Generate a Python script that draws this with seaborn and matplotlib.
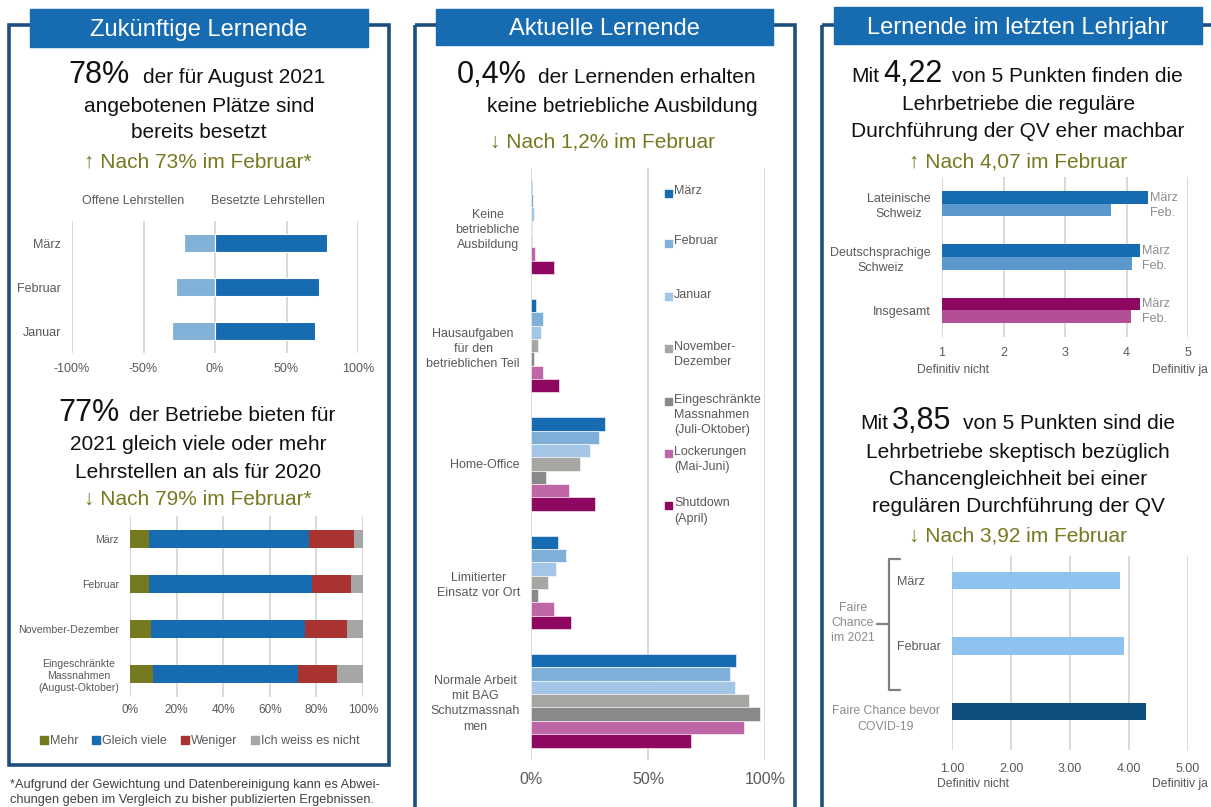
import matplotlib.pyplot as plt
import numpy as np
import pandas as pd
import seaborn as sns
from matplotlib.lines import Line2D
from matplotlib.patches import Rectangle

# --- Zukünftige Lernende: Lehrstellen ---
monate = ['März', 'Februar', 'Januar']
offene = [22, 27, 30]
besetzte = [78, 73, 70]

# --- Zukünftige Lernende: Angebot 2021 vs 2020 ---
stufen = ['März', 'Februar', 'November-Dezember',
          'Eingeschränkte\nMassnahmen\n(August-Oktober)']
angebot_labels = ['Mehr', 'Gleich viele', 'Weniger', 'Ich weiss es nicht']
mehr = [8, 8, 9, 10]
gleich_viele = [69, 70, 66, 62]
weniger = [19, 17, 18, 17]
weiss_nicht = [4, 5, 7, 11]

# --- Aktuelle Lernende ---
situationen = ['Keine\nbetriebliche\nAusbildung',
               'Hausaufgaben\nfür den\nbetrieblichen Teil',
               'Home-Office',
               'Limitierter\nEinsatz vor Ort',
               'Normale Arbeit\nmit BAG\nSchutzmassnah\nmen']
zeitraeume = ['März', 'Februar', 'Januar', 'November-\nDezember',
              'Eingeschränkte\nMassnahmen\n(Juli-Oktober)',
              'Lockerungen\n(Mai-Juni)', 'Shutdown\n(April)']
akt_maerz = [0.4, 2.3, 31.6, 11.4, 87.6]
akt_februar = [0.9, 5.3, 29.1, 14.8, 85.2]
akt_januar = [1.3, 4.1, 25.1, 10.7, 87.3]
akt_novdez = [0.3, 3.0, 20.9, 7.1, 93.2]
akt_eingeschr = [0.3, 1.4, 6.6, 3.0, 98.0]
akt_lockerungen = [1.6, 5.3, 16.2, 9.7, 90.9]
akt_shutdown = [9.7, 11.8, 27.2, 17.1, 68.5]

# --- Lernende im letzten Lehrjahr ---
regionen = ['Lateinische\nSchweiz', 'Deutschsprachige\nSchweiz', 'Insgesamt']
qv_maerz = [4.35, 4.22, 4.22]
qv_februar = [3.74, 4.09, 4.07]

chancen = ['März', 'Februar', 'Faire Chance bevor\nCOVID-19']
chancen_werte = [3.85, 3.92, 4.28]

BLUE = '#176BB0'
FRAME = '#1d4e7e'
GREY = '#595959'
LIGHTGREY = '#8c8c8c'
GREEN = '#77791f'
GRID = '#d9d9d9'
W, H = 1211, 807

sns.set_style('white')
plt.rcParams['font.family'] = ['Liberation Sans', 'DejaVu Sans']

fig = plt.figure(figsize=(W / 100, H / 100), dpi=100)

# background layer in pixel coordinates
bg = fig.add_axes([0, 0, 1, 1])
bg.set_xlim(0, W)
bg.set_ylim(H, 0)
bg.axis('off')


def px_axes(x0, y0, x1, y1):
    return fig.add_axes([x0 / W, 1 - y1 / H, (x1 - x0) / W, (y1 - y0) / H])


def style(ax, xlim, ticks, labels, size, pad):
    ax.set_xlim(*xlim)
    ax.set_xticks(ticks, labels=labels)
    ax.grid(axis='x', color=GRID, lw=1.4)
    ax.grid(axis='y', visible=False)
    ax.set_axisbelow(True)
    sns.despine(ax=ax, left=True, bottom=True)
    ax.tick_params(length=0, colors=GREY, labelsize=size, pad=pad)
    ax.set_xlabel('')
    ax.set_ylabel('')
    ax.patch.set_alpha(0)


def txt(x, y, s, size=15, color='#111111', ha='center', **kw):
    bg.text(x, y, s, fontsize=size, color=color, ha=ha, va='baseline', **kw)


# frames and title boxes
for x0, w, h in [(9, 380, 740), (415, 380, 820), (822, 500, 820)]:
    bg.add_patch(Rectangle((x0, 25), w, h, fill=False, ec=FRAME, lw=2.6, zorder=1))
for (x0, y0, w, h), title, base in [((30, 9, 338, 38), 'Zukünftige Lernende', 36),
                                     ((436, 9, 337, 36), 'Aktuelle Lernende', 35),
                                     ((834, 7, 368, 37), 'Lernende im letzten Lehrjahr', 34)]:
    bg.add_patch(Rectangle((x0, y0), w, h, color=BLUE, zorder=2))
    bg.text(x0 + w / 2, base, title, color='white', fontsize=17, ha='center',
            va='baseline', zorder=3)

# headlines left
txt(130, 83, '78%', size=22, ha='right')
txt(143, 83, 'der für August 2021', ha='left')
txt(199, 112, 'angebotenen Plätze sind')
txt(199, 138, 'bereits besetzt')
txt(198, 168, '↑ Nach 73% im Februar*', color=GREEN)
txt(120, 421, '77%', size=22, ha='right')
txt(129, 421, 'der Betriebe bieten für', ha='left')
txt(198, 450, '2021 gleich viele oder mehr')
txt(198, 478, 'Lehrstellen an als für 2020')
txt(198, 505, '↓ Nach 79% im Februar*', color=GREEN)

# headlines middle
txt(527, 83, '0,4%', size=22, ha='right')
txt(538, 83, 'der Lernenden erhalten', ha='left')
txt(758, 112, 'keine betriebliche Ausbildung', ha='right')
txt(602, 147, '↓ Nach 1,2% im Februar', color=GREEN)

# headlines right
txt(879, 82, 'Mit', ha='right')
txt(883, 82, '4,22', size=22, ha='left')
txt(952, 82, 'von 5 Punkten finden die', ha='left')
txt(1019, 110, 'Lehrbetriebe die reguläre')
txt(1018, 137, 'Durchführung der QV eher machbar')
txt(1018, 167, '↑ Nach 4,07 im Februar', color=GREEN)
txt(888, 429, 'Mit', ha='right')
txt(892, 429, '3,85', size=22, ha='left')
txt(963, 429, 'von 5 Punkten sind die', ha='left')
txt(1018, 458, 'Lehrbetriebe skeptisch bezüglich')
txt(1018, 485, 'Chancengleichheit bei einer')
txt(1018, 512, 'regulären Durchführung der QV')
txt(1018, 542, '↓ Nach 3,92 im Februar', color=GREEN)

# footnote
txt(10, 788, '*Aufgrund der Gewichtung und Datenbereinigung kann es Abwei-',
    size=9.2, color='#404040', ha='left')
txt(10, 803, 'chungen geben im Vergleich zu bisher publizierten Ergebnissen.',
    size=9.2, color='#404040', ha='left')

# ---- chart 1: offene / besetzte Lehrstellen ----
ax1 = px_axes(72, 221, 358, 353)
sns.barplot(x=[-v for v in offene], y=monate, orient='y', color='#82b1d8',
            saturation=1, width=0.4, errorbar=None, edgecolor='white',
            linewidth=0.8, ax=ax1)
sns.barplot(x=besetzte, y=monate, orient='y', color=BLUE, saturation=1,
            width=0.4, errorbar=None, edgecolor='white', linewidth=0.8, ax=ax1)
style(ax1, (-100, 100), [-100, -50, 0, 50, 100],
      ['-100%', '-50%', '0%', '50%', '100%'], 9, 7)
ax1.tick_params(axis='y', pad=8)
bg.text(133, 201, 'Offene Lehrstellen', fontsize=9, color=GREY, ha='center', va='center')
bg.text(268, 201, 'Besetzte Lehrstellen', fontsize=9, color=GREY, ha='center', va='center')

# ---- chart 2: stacked 100% bars ----
ax2 = px_axes(130, 516, 363, 697)
anteile = np.array([mehr, gleich_viele, weniger, weiss_nicht])
kumuliert = np.cumsum(anteile, axis=0)
farben2 = ['#76791f', BLUE, '#a93331', '#a6a6a6']
for k in range(len(farben2) - 1, -1, -1):
    sns.barplot(x=kumuliert[k], y=stufen, orient='y', color=farben2[k],
                saturation=1, width=0.4, errorbar=None, linewidth=0, ax=ax2)
style(ax2, (0, 100), range(0, 101, 20), [f'{v}%' for v in range(0, 101, 20)], 8.5, 5)
ax2.set_yticks(range(len(stufen)), labels=stufen, ma='center', linespacing=1.25)
ax2.tick_params(axis='y', labelsize=7.6, pad=8)
handles2 = [Line2D([], [], marker='s', ls='', color=c, markersize=6) for c in farben2]
fig.legend(handles2, angebot_labels, loc='center', bbox_to_anchor=(200, 741),
           bbox_transform=bg.transData, ncol=4, frameon=False, fontsize=9,
           handlelength=0.6, handletextpad=0.2, columnspacing=1.1, labelcolor=GREY)

# ---- chart 3: aktuelle Lernende ----
ax3 = px_axes(531, 168, 765, 760)
farben3 = [BLUE, '#7fb0d9', '#a3c6e6', '#a6a6a3', '#898989', '#bf66a6', '#8e0761']
reihen = [akt_maerz, akt_februar, akt_januar, akt_novdez, akt_eingeschr,
          akt_lockerungen, akt_shutdown]
df3 = pd.DataFrame({
    'situation': np.tile(situationen, len(zeitraeume)),
    'zeitraum': np.repeat(zeitraeume, len(situationen)),
    'anteil': np.concatenate(reihen),
})
sns.barplot(data=df3, x='anteil', y='situation', hue='zeitraum', orient='y',
            hue_order=zeitraeume, palette=farben3, saturation=1, width=0.79,
            errorbar=None, legend=False, edgecolor='white', linewidth=0.4, ax=ax3)
style(ax3, (0, 100), [0, 50, 100], ['0%', '50%', '100%'], 11.5, 9)
ax3.set_yticks(range(len(situationen)), labels=situationen, ma='center', linespacing=1.35)
ax3.tick_params(axis='y', labelsize=9, pad=8)
for name, col, y in zip(zeitraeume, farben3, [193, 243, 296, 348, 401, 453, 505]):
    bg.add_patch(Rectangle((665, y - 3.5), 7, 7, color=col, zorder=5))
    bg.text(674, y - 7.5, name, fontsize=9, color=GREY, va='top', ha='left',
            linespacing=1.35, zorder=5)

# ---- chart 4: QV machbar ----
ax4 = px_axes(942, 177, 1188, 337)
df4 = pd.DataFrame({
    'region': regionen * 2,
    'periode': ['März'] * len(regionen) + ['Feb.'] * len(regionen),
    'wert': qv_maerz + qv_februar,
})
sns.barplot(data=df4, x='wert', y='region', hue='periode', orient='y',
            palette=[BLUE, '#5b98cd'], saturation=1, width=0.48, errorbar=None,
            legend=False, linewidth=0, ax=ax4)
ax4.containers[0][2].set_facecolor('#8e0761')
ax4.containers[1][2].set_facecolor('#b24f97')
style(ax4, (1, 5), [1, 2, 3, 4, 5], ['1', '2', '3', '4', '5'], 9, 7)
ax4.set_yticks(range(len(regionen)), labels=regionen, ma='center', linespacing=1.35)
ax4.tick_params(axis='y', pad=8)
for i, v in enumerate(qv_maerz):
    ax4.text(v + 0.04, i - 0.11, 'März', fontsize=9, color=LIGHTGREY, va='center')
    ax4.text(v + 0.04, i + 0.17, 'Feb.', fontsize=9, color=LIGHTGREY, va='center')
bg.text(953, 370, 'Definitiv nicht', fontsize=8.7, color=GREY, ha='center', va='center')
bg.text(1180, 370, 'Definitiv ja', fontsize=8.7, color=GREY, ha='center', va='center')

# ---- chart 5: Chancengleichheit ----
ax5 = px_axes(952, 556, 1188, 750)
sns.barplot(x=chancen_werte, y=chancen, hue=chancen, orient='y',
            palette=['#8ec3f0', '#8ec3f0', '#0f4f80'], saturation=1, width=0.26,
            errorbar=None, legend=False, linewidth=0, ax=ax5)
style(ax5, (1, 5), [1, 2, 3, 4, 5], ['1.00', '2.00', '3.00', '4.00', '5.00'], 9, 9)
ax5.set_ylim(2.588, -0.374)
ax5.tick_params(axis='y', labelleft=False)
bg.text(897, 582, 'März', fontsize=9, color=GREY, ha='left', va='center')
bg.text(897, 647, 'Februar', fontsize=9, color=GREY, ha='left', va='center')
bg.text(886, 719, 'Faire Chance bevor\nCOVID-19', fontsize=8.8, color=LIGHTGREY,
        ha='center', va='center', ma='center', linespacing=1.35)
bg.text(853, 623, 'Faire\nChance\nim 2021', fontsize=8.8, color=LIGHTGREY,
        ha='center', va='center', ma='center', linespacing=1.35)
bg.plot([900, 889, 889, 900], [559, 559, 690, 690], color='#7f7f7f', lw=1.6)
bg.plot([877, 889], [624, 624], color='#7f7f7f', lw=1.6)
bg.text(973, 784, 'Definitiv nicht', fontsize=8.7, color=GREY, ha='center', va='center')
bg.text(1180, 784, 'Definitiv ja', fontsize=8.7, color=GREY, ha='center', va='center')

fig.savefig('out.png', dpi=100)
